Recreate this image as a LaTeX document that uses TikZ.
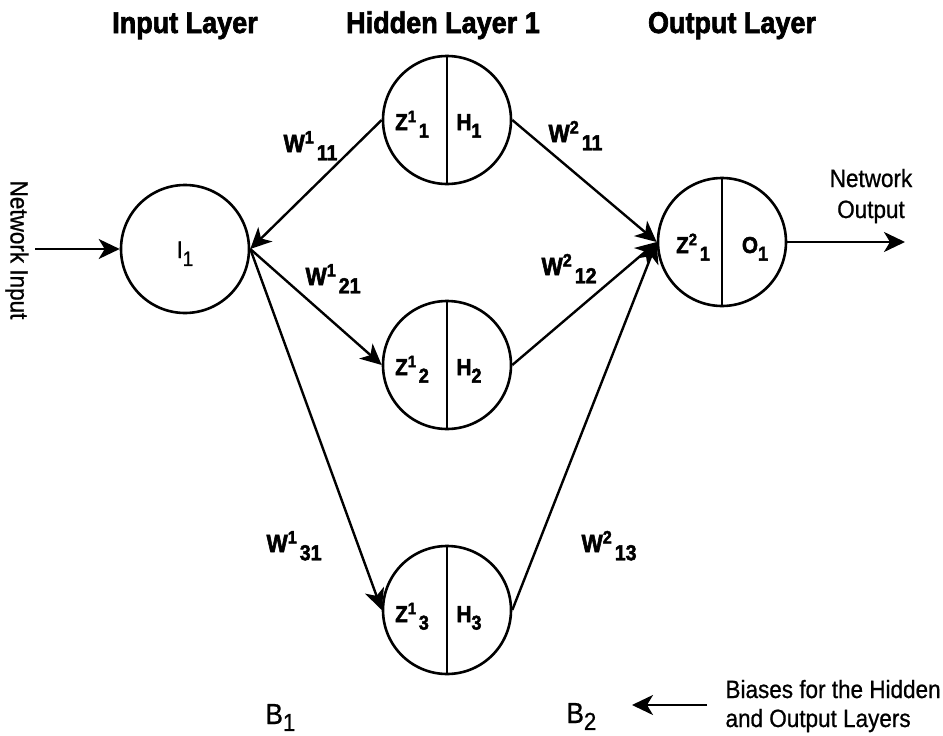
\documentclass[tikz,border=0pt]{standalone}
\usepackage{fontspec}
\setmainfont{Liberation Sans}[FakeStretch=0.9, UprightFeatures={FakeBold=0.8}, BoldFeatures={FakeBold=2.2}]
\usetikzlibrary{arrows.meta}
\makeatletter
\newcommand\supsub[3]{#1\raisebox{0.34em}{\fontsize{\the\dimexpr\f@size pt*72/100\relax}{0pt}\selectfont #2}\kern0.12em\raisebox{-0.33em}{\fontsize{\the\dimexpr\f@size pt*87/100\relax}{0pt}\selectfont #3}}
\newcommand\subonly[2]{#1\raisebox{-0.33em}{\fontsize{\the\dimexpr\f@size pt*87/100\relax}{0pt}\selectfont #2}}
\newcommand\subhigh[2]{#1\raisebox{-0.24em}{\fontsize{\the\dimexpr\f@size pt*85/100\relax}{0pt}\selectfont #2}}
\makeatother
\tikzset{
  neuron/.style={circle, draw, line width=2.6pt, minimum size=128pt, inner sep=0pt},
  divider/.style={line width=2.4pt},
  conn/.style={line width=2.4pt, -{Stealth[length=21pt,width=20pt,inset=6pt]}},
  head/.style={font=\fontsize{30}{34}\selectfont\bfseries, anchor=base},
  wlab/.style={font=\fontsize{25}{28}\selectfont\bfseries, anchor=base west},
  cell/.style={font=\fontsize{23}{26}\selectfont\bfseries, anchor=base},
  cellreg/.style={font=\fontsize{24}{26}\selectfont, anchor=base},
  plain/.style={font=\fontsize{25}{30}\selectfont},
  biglab/.style={font=\fontsize{29}{34}\selectfont, anchor=base west},
}
\begin{document}
\begin{tikzpicture}[x=1pt,y=-1pt]
\useasboundingbox (0,0) rectangle (943,736);

% headers
\node[head] (hin) at (185,33) {Input Layer};
\node[head] (hhid) at (443,33) {Hidden Layer 1};
\node[head] (hout) at (732,33) {Output Layer};

% neurons
\node[neuron] (I) at (185,249) {};
\node[neuron] (H1) at (447,120) {};
\node[neuron] (H2) at (447,365) {};
\node[neuron] (H3) at (447,610) {};
\node[neuron] (O) at (722,242) {};

\draw[divider] (H1.north) -- (H1.south);
\draw[divider] (H2.north) -- (H2.south);
\draw[divider] (H3.north) -- (H3.south);
\draw[divider] (O.north) -- (O.south);

% cell texts
\node[cellreg] (tI) at (185,258) {\subonly{I}{1}};
\node[cell] (tZ1) at (412,130) {\supsub{Z}{1}{1}};
\node[cell] (tH1) at (469,130) {\subonly{H}{1}};
\node[cell] (tZ2) at (412,375) {\supsub{Z}{1}{2}};
\node[cell] (tH2) at (469,375) {\subonly{H}{2}};
\node[cell] (tZ3) at (412,622) {\supsub{Z}{1}{3}};
\node[cell] (tH3) at (469,622) {\subonly{H}{3}};
\node[cell] (tZO) at (693,253) {\supsub{Z}{2}{1}};
\node[cell] (tO) at (755,253) {\subonly{O}{1}};

% connectors
\coordinate (nin) at (35,249);
\coordinate (nout) at (905,242);
\draw[conn] (nin) -- (I.west);
\draw[conn] (H1.west) -- (I.east);
\draw[conn] (I.east) -- (H2.west);
\draw[conn] (I.east) -- (H3.west);
\draw[conn] (H1.east) -- (O.west);
\draw[conn] (H2.east) -- (O.west);
\draw[conn] (H3.east) -- (O.west);
\draw[conn] (O.east) -- (nout);

% weight labels
\node[wlab] (w111) at (280,152) {\supsub{W}{1}{11}};
\node[wlab] (w121) at (302,285) {\supsub{W}{1}{21}};
\node[wlab] (w131) at (263,552) {\supsub{W}{1}{31}};
\node[wlab] (w211) at (545,142) {\supsub{W}{2}{11}};
\node[wlab] (w212) at (538,275) {\supsub{W}{2}{12}};
\node[wlab] (w213) at (578,552) {\supsub{W}{2}{13}};

% side labels
\node[plain, rotate=-90] (netin) at (17,250) {Network Input};
\node[plain, anchor=base] (netout1) at (871,187) {Network};
\node[plain, anchor=base] (netout2) at (871,218) {Output};

% biases
\node[biglab] (B1) at (262,724) {\subhigh{B}{1}};
\node[biglab] (B2) at (563,723) {\subhigh{B}{2}};
\coordinate (bstart) at (707,705);
\coordinate (bend) at (632,705);
\draw[conn] (bstart) -- (bend);
\node[plain, anchor=base west] (bias1) at (722,698) {Biases for the Hidden};
\node[plain, anchor=base west] (bias2) at (722,727) {and Output Layers};
\end{tikzpicture}
\end{document}
